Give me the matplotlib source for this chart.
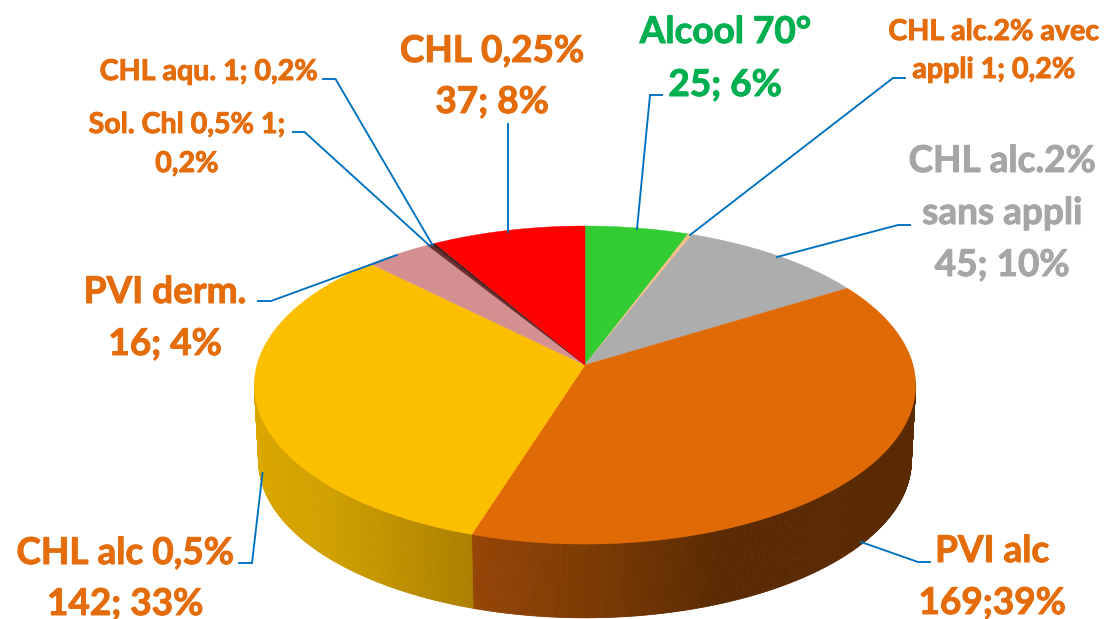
import numpy as np
import matplotlib
matplotlib.use("Agg")
import matplotlib.pyplot as plt
import matplotlib.patheffects as pe
from matplotlib.collections import PolyCollection
from matplotlib.colors import to_rgb

# ---------- data ----------
categories = ["Alcool 70°", "CHL alc.2% avec appli", "CHL alc.2% sans appli", "PVI alc",
              "CHL alc 0,5%", "PVI derm.", "Sol. Chl 0,5%", "CHL aqu.", "CHL 0,25%"]
counts = [25, 1, 45, 169, 142, 16, 1, 1, 37]
label_lines = [
    ["Alcool 70°", "25; 6%"],
    ["CHL alc.2% avec", "appli 1; 0,2%"],
    ["CHL alc.2%", "sans appli", "45; 10%"],
    ["PVI alc", "169;39%"],
    ["CHL alc 0,5%", "142; 33%"],
    ["PVI derm.", "16; 4%"],
    ["Sol. Chl 0,5% 1;", "0,2%"],
    ["CHL aqu. 1; 0,2%"],
    ["CHL 0,25%", "37; 8%"],
]

# ---------- style / layout ----------
colors = ["#33CC33", "#F5BE8C", "#ADADAD", "#E06A05", "#FBBF00",
          "#D49090", "#6E2E2E", "#4A2222", "#FF0000"]
ORANGE, GREEN, GREY = "#E46C0A", "#00B050", "#A6A6A6"
text_colors = [GREEN, ORANGE, GREY, ORANGE, ORANGE, ORANGE, ORANGE, ORANGE, ORANGE]
BIG, SMALL = 26.6, 20.6
text_sizes = [BIG, SMALL, BIG, BIG, BIG, BIG, SMALL, SMALL, BIG]
text_x = [725, 994, 1002, 992, 125, 165, 187, 209, 492]
text_base = [[43, 96], [40, 78], [172, 224, 276], [562, 614], [564, 615],
             [303, 355], [133, 172], [80], [62, 113]]
leaders = [
    [(662, 95), (650, 95), (637, 229)],
    [(905, 78), (893, 78), (690, 235)],
    [(910, 225), (898, 225), (777, 257)],
    [(930, 562), (918, 562), (861, 542)],
    [(239, 563), (252, 563), (262.5, 473)],
    [(258, 301), (271, 301), (397, 255)],
    [(293, 132), (304.5, 132), (430, 246)],
    [(323, 79), (335.5, 79), (432.5, 245)],
    [(507.5, 124), (507.5, 232)],
]
CX, CY, B, A, K = 585.0, 365.0, 328.0, 156.5, 0.126
S_BOT, A_BOT, D_BOT = 0.987, 154.5, 76.0


def top_xy(t):
    u, v = np.sin(t), -np.cos(t)
    w = 1 / (1 - K * v)
    return CX + B * u * w, CY + A * v * w


def bot_xy(t):
    u, v = np.sin(t), -np.cos(t)
    w = 1 / (1 - K * v)
    return CX + S_BOT * B * u * w, CY + D_BOT + A_BOT * v * w


def side_shade(i, x):
    if i == 3:   # PVI alc
        xs, cs = [472, 600, 720, 920], ["#964506", "#793903", "#5A2A02", "#5A2A02"]
    elif i == 4:  # CHL alc
        xs, cs = [254, 330, 472], ["#DBA700", "#CFA000", "#AC7F00"]
    else:
        return to_rgb(colors[i])
    cs = np.array([to_rgb(c) for c in cs])
    return tuple(np.interp(x, xs, cs[:, k]) for k in range(3))


fig = plt.figure(figsize=(11.07, 6.19), dpi=100, facecolor="white")
ax = fig.add_axes([0, 0, 1, 1])
ax.set_xlim(0, 1107)
ax.set_ylim(619, 0)
ax.axis("off")

edges = np.cumsum([0] + counts) / sum(counts) * 2 * np.pi

# side wall
quads, qcols = [], []
for i in range(len(counts)):
    n = max(2, int((edges[i + 1] - edges[i]) * 180))
    ts = np.linspace(edges[i], edges[i + 1], n + 1)
    for a, b in zip(ts[:-1], ts[1:]):
        if -np.cos(0.5 * (a + b)) < K - 0.02:
            continue
        xa, ya = top_xy(a); xb, yb = top_xy(b)
        xc, yc = bot_xy(b); xd, yd = bot_xy(a)
        quads.append([(xa, ya), (xb, yb), (xc, yc), (xd, yd)])
        qcols.append(side_shade(i, 0.5 * (xa + xb)))
ax.add_collection(PolyCollection(quads, facecolors=qcols, edgecolors=qcols, linewidths=0.6, zorder=1))

# top face
for i in range(len(counts)):
    ts = np.linspace(edges[i], edges[i + 1], max(3, int((edges[i + 1] - edges[i]) * 120)))
    xs, ys = top_xy(ts)
    ax.fill(np.r_[CX, xs], np.r_[CY, ys], facecolor=colors[i], edgecolor=colors[i], linewidth=0.3, zorder=2)

# leaders and labels
for i, pts in enumerate(leaders):
    px, py = zip(*pts)
    ax.plot(px, py, color="#0070C0", lw=1.35, zorder=3, solid_joinstyle="miter")
    for line, y in zip(label_lines[i], text_base[i]):
        ax.text(text_x[i], y, line, color=text_colors[i], fontsize=text_sizes[i], fontfamily="Lato",
                fontweight="bold", ha="center", va="baseline", zorder=4,
                path_effects=[pe.withStroke(linewidth=0.7, foreground=text_colors[i])])

fig.savefig("out.png", dpi=100, facecolor="white")
